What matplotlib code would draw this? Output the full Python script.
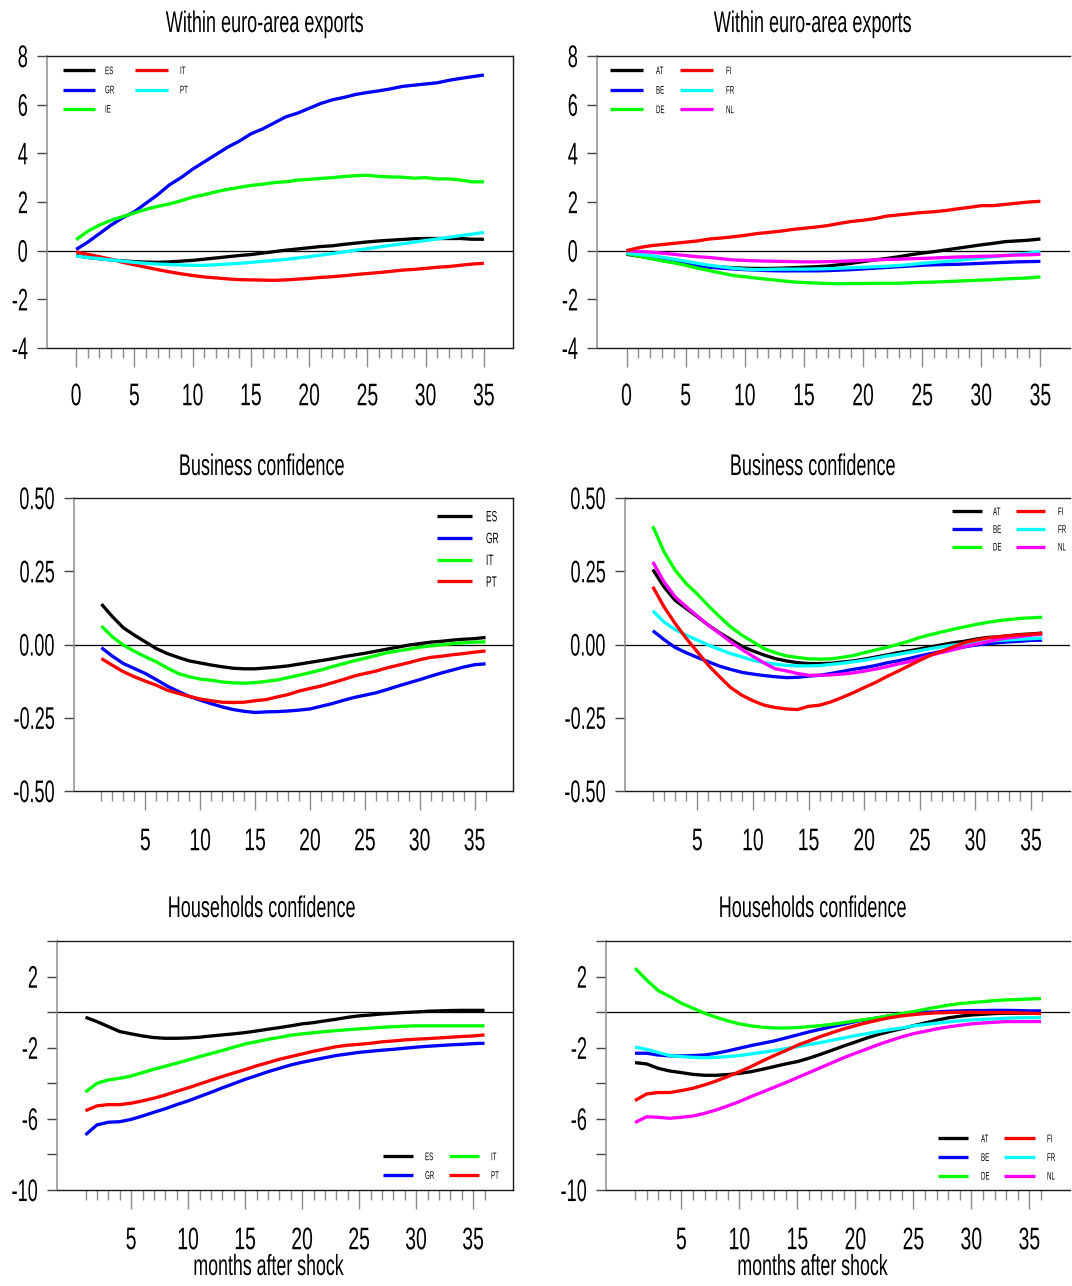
import matplotlib
matplotlib.use("Agg")
import matplotlib.pyplot as plt
from matplotlib.patheffects import AbstractPathEffect
from matplotlib.transforms import Affine2D
from matplotlib.legend import Legend

# ---------------------------------------------------------------- data
months0 = list(range(0, 36))   # within euro-area exports horizon
months1 = list(range(1, 37))   # confidence horizons

# Within euro-area exports, periphery
exp_ES = [-0.2, -0.28, -0.33, -0.38, -0.42, -0.45, -0.47, -0.48, -0.46, -0.43, -0.4, -0.35,
          -0.3, -0.25, -0.2, -0.16, -0.1, -0.04, 0.02, 0.07, 0.12, 0.17, 0.2, 0.26,
          0.31, 0.36, 0.4, 0.43, 0.46, 0.49, 0.5, 0.5, 0.5, 0.5, 0.47, 0.47]
exp_GR = [0.05, 0.35, 0.7, 1.05, 1.35, 1.6, 1.95, 2.3, 2.7, 3.0, 3.35, 3.65,
          3.95, 4.25, 4.5, 4.8, 5.0, 5.25, 5.5, 5.65, 5.85, 6.05, 6.2, 6.3,
          6.42, 6.5, 6.57, 6.65, 6.75, 6.8, 6.85, 6.9, 7.0, 7.08, 7.15, 7.22]
exp_IE = [0.45, 0.8, 1.05, 1.25, 1.4, 1.55, 1.7, 1.82, 1.92, 2.05, 2.2, 2.3,
          2.42, 2.52, 2.6, 2.68, 2.73, 2.8, 2.83, 2.9, 2.93, 2.97, 3.0, 3.05,
          3.08, 3.1, 3.05, 3.03, 3.02, 2.98, 3.0, 2.95, 2.95, 2.9, 2.83, 2.83]
exp_IT = [-0.05, -0.15, -0.25, -0.35, -0.48, -0.58, -0.68, -0.78, -0.87, -0.95, -1.02, -1.08,
          -1.12, -1.16, -1.19, -1.2, -1.21, -1.22, -1.2, -1.17, -1.14, -1.1, -1.07, -1.03,
          -0.98, -0.94, -0.9, -0.85, -0.8, -0.77, -0.73, -0.68, -0.65, -0.6, -0.55, -0.52]
exp_PT = [-0.22, -0.28, -0.33, -0.38, -0.43, -0.48, -0.52, -0.55, -0.57, -0.59, -0.6, -0.6,
          -0.58, -0.55, -0.52, -0.48, -0.44, -0.4, -0.36, -0.3, -0.25, -0.18, -0.12, -0.05,
          0.02, 0.08, 0.15, 0.22, 0.28, 0.35, 0.42, 0.48, 0.55, 0.62, 0.68, 0.75]

# Within euro-area exports, core
exp_AT = [-0.15, -0.22, -0.3, -0.38, -0.45, -0.52, -0.58, -0.63, -0.67, -0.7, -0.72, -0.73,
          -0.73, -0.72, -0.7, -0.68, -0.66, -0.63, -0.58, -0.52, -0.45, -0.38, -0.32, -0.25,
          -0.17, -0.1, -0.04, 0.03, 0.1, 0.17, 0.24, 0.3, 0.37, 0.4, 0.43, 0.48]
exp_BE = [-0.12, -0.2, -0.3, -0.4, -0.48, -0.55, -0.62, -0.68, -0.72, -0.75, -0.78, -0.8,
          -0.82, -0.83, -0.83, -0.83, -0.83, -0.82, -0.8, -0.78, -0.75, -0.72, -0.69, -0.66,
          -0.63, -0.6, -0.58, -0.57, -0.56, -0.54, -0.52, -0.5, -0.48, -0.46, -0.45, -0.44]
exp_DE = [-0.12, -0.22, -0.32, -0.42, -0.5, -0.6, -0.72, -0.82, -0.92, -1.02, -1.07, -1.13,
          -1.18, -1.23, -1.28, -1.31, -1.33, -1.35, -1.36, -1.35, -1.35, -1.34, -1.34, -1.34,
          -1.32, -1.3, -1.29, -1.27, -1.25, -1.23, -1.21, -1.19, -1.16, -1.14, -1.12, -1.08]
exp_FI = [0.0, 0.12, 0.2, 0.25, 0.3, 0.35, 0.4, 0.48, 0.52, 0.57, 0.63, 0.7,
          0.75, 0.8, 0.87, 0.92, 0.97, 1.03, 1.12, 1.2, 1.25, 1.32, 1.42, 1.47,
          1.52, 1.57, 1.6, 1.65, 1.72, 1.78, 1.85, 1.85, 1.9, 1.95, 2.0, 2.03]
exp_FR = [-0.1, -0.15, -0.2, -0.27, -0.35, -0.43, -0.52, -0.6, -0.66, -0.72, -0.76, -0.78,
          -0.77, -0.76, -0.76, -0.76, -0.75, -0.74, -0.72, -0.7, -0.68, -0.66, -0.64, -0.61,
          -0.57, -0.52, -0.48, -0.44, -0.4, -0.35, -0.3, -0.25, -0.2, -0.15, -0.1, -0.05]
exp_NL = [0.0, -0.03, -0.06, -0.1, -0.15, -0.2, -0.25, -0.28, -0.33, -0.38, -0.4, -0.42,
          -0.43, -0.44, -0.45, -0.46, -0.46, -0.45, -0.44, -0.42, -0.4, -0.38, -0.36, -0.35,
          -0.33, -0.32, -0.3, -0.28, -0.26, -0.25, -0.23, -0.22, -0.2, -0.18, -0.17, -0.15]

# Business confidence, periphery
bus_ES = [0.138, 0.095, 0.057, 0.032, 0.009, -0.014, -0.031, -0.044, -0.056, -0.063, -0.07, -0.076,
          -0.081, -0.083, -0.083, -0.08, -0.077, -0.073, -0.067, -0.061, -0.055, -0.049, -0.042, -0.036,
          -0.03, -0.023, -0.016, -0.009, -0.002, 0.003, 0.008, 0.011, 0.015, 0.018, 0.02, 0.024]
bus_GR = [-0.011, -0.04, -0.065, -0.082, -0.099, -0.12, -0.142, -0.16, -0.177, -0.19, -0.202, -0.213,
          -0.222, -0.228, -0.232, -0.23, -0.229, -0.227, -0.224, -0.22, -0.211, -0.202, -0.191, -0.181,
          -0.173, -0.165, -0.154, -0.142, -0.131, -0.12, -0.108, -0.097, -0.087, -0.077, -0.069, -0.066]
bus_IT = [0.063, 0.026, -0.002, -0.023, -0.042, -0.059, -0.08, -0.099, -0.11, -0.118, -0.122, -0.128,
          -0.131, -0.132, -0.13, -0.126, -0.121, -0.113, -0.105, -0.096, -0.087, -0.076, -0.066, -0.056,
          -0.047, -0.038, -0.028, -0.022, -0.016, -0.009, -0.005, -0.001, 0.003, 0.006, 0.008, 0.009]
bus_PT = [-0.048, -0.071, -0.093, -0.11, -0.125, -0.139, -0.156, -0.167, -0.177, -0.186, -0.192, -0.197,
          -0.198, -0.197, -0.192, -0.188, -0.179, -0.171, -0.159, -0.15, -0.142, -0.131, -0.12, -0.108,
          -0.099, -0.091, -0.08, -0.071, -0.062, -0.052, -0.044, -0.04, -0.035, -0.031, -0.026, -0.022]

# Business confidence, core
bus_AT = [0.256, 0.197, 0.151, 0.123, 0.095, 0.066, 0.04, 0.017, -0.006, -0.022, -0.036, -0.048,
          -0.056, -0.062, -0.065, -0.065, -0.064, -0.06, -0.056, -0.05, -0.043, -0.036, -0.028, -0.022,
          -0.015, -0.008, -0.001, 0.006, 0.011, 0.018, 0.024, 0.026, 0.03, 0.034, 0.036, 0.039]
bus_BE = [0.047, 0.017, -0.01, -0.028, -0.044, -0.059, -0.074, -0.085, -0.095, -0.101, -0.106, -0.11,
          -0.113, -0.112, -0.108, -0.105, -0.099, -0.092, -0.085, -0.079, -0.072, -0.063, -0.056, -0.048,
          -0.039, -0.031, -0.023, -0.015, -0.008, -0.002, 0.002, 0.006, 0.009, 0.011, 0.014, 0.015]
bus_DE = [0.404, 0.317, 0.254, 0.208, 0.172, 0.132, 0.095, 0.06, 0.032, 0.009, -0.014, -0.028,
          -0.039, -0.044, -0.049, -0.05, -0.049, -0.044, -0.038, -0.028, -0.019, -0.01, 0.0, 0.011,
          0.024, 0.034, 0.043, 0.052, 0.06, 0.068, 0.075, 0.081, 0.085, 0.089, 0.091, 0.093]
bus_FI = [0.197, 0.129, 0.072, 0.021, -0.025, -0.071, -0.11, -0.147, -0.173, -0.192, -0.207, -0.215,
          -0.22, -0.222, -0.211, -0.207, -0.196, -0.181, -0.165, -0.147, -0.13, -0.11, -0.092, -0.073,
          -0.054, -0.036, -0.023, -0.008, 0.006, 0.015, 0.022, 0.026, 0.03, 0.033, 0.035, 0.038]
bus_FR = [0.115, 0.077, 0.051, 0.032, 0.015, -0.002, -0.017, -0.031, -0.042, -0.054, -0.062, -0.067,
          -0.071, -0.073, -0.073, -0.072, -0.068, -0.064, -0.059, -0.054, -0.047, -0.04, -0.034, -0.027,
          -0.021, -0.014, -0.008, -0.002, 0.002, 0.007, 0.01, 0.014, 0.016, 0.018, 0.02, 0.022]
bus_NL = [0.282, 0.214, 0.163, 0.129, 0.097, 0.066, 0.038, 0.009, -0.017, -0.04, -0.063, -0.083,
          -0.09, -0.099, -0.105, -0.105, -0.104, -0.101, -0.097, -0.091, -0.084, -0.076, -0.067, -0.059,
          -0.048, -0.036, -0.027, -0.018, -0.008, 0.001, 0.009, 0.017, 0.023, 0.027, 0.032, 0.035]

# Households confidence, periphery
hh_ES = [-0.29, -0.53, -0.81, -1.09, -1.22, -1.34, -1.43, -1.47, -1.47, -1.45, -1.41, -1.34,
         -1.28, -1.22, -1.15, -1.06, -0.96, -0.87, -0.77, -0.66, -0.59, -0.49, -0.4, -0.29,
         -0.21, -0.16, -0.1, -0.06, -0.02, 0.01, 0.05, 0.07, 0.09, 0.1, 0.1, 0.1]
hh_GR = [-6.9, -6.34, -6.19, -6.16, -6.03, -5.84, -5.63, -5.43, -5.2, -4.99, -4.75, -4.51,
         -4.26, -4.02, -3.78, -3.57, -3.35, -3.16, -2.97, -2.82, -2.69, -2.56, -2.44, -2.35,
         -2.26, -2.2, -2.14, -2.09, -2.03, -1.97, -1.92, -1.88, -1.84, -1.81, -1.77, -1.75]
hh_IT = [-4.49, -4.0, -3.81, -3.72, -3.59, -3.4, -3.21, -3.04, -2.87, -2.69, -2.5, -2.33,
         -2.16, -1.97, -1.79, -1.66, -1.53, -1.42, -1.3, -1.22, -1.16, -1.09, -1.04, -0.99,
         -0.94, -0.9, -0.85, -0.82, -0.79, -0.77, -0.77, -0.77, -0.77, -0.77, -0.77, -0.77]
hh_PT = [-5.54, -5.27, -5.2, -5.2, -5.12, -4.99, -4.84, -4.66, -4.45, -4.26, -4.04, -3.83,
         -3.62, -3.42, -3.23, -3.02, -2.84, -2.65, -2.5, -2.35, -2.2, -2.07, -1.94, -1.86,
         -1.81, -1.75, -1.67, -1.62, -1.56, -1.52, -1.49, -1.45, -1.41, -1.37, -1.34, -1.28]

# Households confidence, core
hh_AT = [-2.84, -2.91, -3.16, -3.31, -3.4, -3.5, -3.55, -3.55, -3.51, -3.44, -3.35, -3.21,
         -3.06, -2.91, -2.78, -2.59, -2.37, -2.14, -1.9, -1.68, -1.45, -1.25, -1.08, -0.93,
         -0.76, -0.61, -0.46, -0.32, -0.23, -0.16, -0.12, -0.08, -0.06, -0.06, -0.06, -0.06]
hh_BE = [-2.31, -2.31, -2.41, -2.46, -2.46, -2.44, -2.41, -2.31, -2.18, -2.03, -1.88, -1.75,
         -1.62, -1.45, -1.28, -1.11, -0.96, -0.81, -0.68, -0.53, -0.42, -0.31, -0.21, -0.12,
         -0.06, -0.01, 0.01, 0.05, 0.07, 0.09, 0.09, 0.1, 0.1, 0.09, 0.07, 0.07]
hh_DE = [2.47, 1.81, 1.21, 0.88, 0.5, 0.22, -0.06, -0.29, -0.49, -0.66, -0.77, -0.85,
         -0.89, -0.89, -0.87, -0.81, -0.76, -0.68, -0.59, -0.49, -0.4, -0.31, -0.19, -0.08,
         0.03, 0.16, 0.28, 0.39, 0.48, 0.54, 0.59, 0.65, 0.69, 0.71, 0.74, 0.76]
hh_FI = [-4.97, -4.6, -4.52, -4.52, -4.41, -4.28, -4.09, -3.87, -3.62, -3.35, -3.06, -2.74,
         -2.44, -2.16, -1.86, -1.62, -1.37, -1.15, -0.94, -0.76, -0.59, -0.44, -0.31, -0.21,
         -0.14, -0.08, -0.04, -0.02, -0.01, -0.01, -0.02, -0.02, -0.02, -0.04, -0.06, -0.08]
hh_FR = [-1.97, -2.09, -2.27, -2.44, -2.5, -2.54, -2.56, -2.54, -2.5, -2.44, -2.35, -2.26,
         -2.16, -2.05, -1.94, -1.82, -1.71, -1.58, -1.45, -1.32, -1.21, -1.09, -0.98, -0.89,
         -0.77, -0.7, -0.62, -0.55, -0.49, -0.44, -0.4, -0.38, -0.34, -0.32, -0.31, -0.31]
hh_NL = [-6.21, -5.88, -5.91, -5.97, -5.91, -5.84, -5.69, -5.5, -5.27, -5.03, -4.75, -4.49,
         -4.22, -3.96, -3.68, -3.4, -3.12, -2.84, -2.56, -2.31, -2.07, -1.82, -1.6, -1.39,
         -1.21, -1.08, -0.94, -0.83, -0.74, -0.66, -0.61, -0.57, -0.53, -0.53, -0.53, -0.53]

titles = ["Within euro-area exports", "Within euro-area exports",
          "Business confidence", "Business confidence",
          "Households confidence", "Households confidence"]
xlabel_text = "months after shock"

yticks_exp = [-4, -2, 0, 2, 4, 6, 8]
ylabels_exp = ["-4", "-2", "0", "2", "4", "6", "8"]
yticks_bus = [-0.5, -0.25, 0.0, 0.25, 0.5]
ylabels_bus = ["-0.50", "-0.25", "0.00", "0.25", "0.50"]
yticks_hh = [-10, -8, -6, -4, -2, 0, 2, 4]
ylabels_hh = ["-10", "", "-6", "", "-2", "", "2", ""]

COL = {"ES": "#000000", "GR": "#0000ff", "IE": "#00ff00", "IT": "#ff0000", "PT": "#00ffff",
       "AT": "#000000", "BE": "#0000ff", "DE": "#00ff00", "FI": "#ff0000", "FR": "#00ffff",
       "NL": "#ff00ff"}
COL_CONF_PER = {"ES": "#000000", "GR": "#0000ff", "IT": "#00ff00", "PT": "#ff0000"}

# ---------------------------------------------------------------- helpers
W, H = 1072, 1286
DPI = 100
PT = 72.0 / DPI   # points per pixel
SY = 1.5          # vertical stretch of the (very narrow, tall) lettering


class Squeeze(AbstractPathEffect):
    """Draw text with an anisotropic scale: the original uses a tall, very narrow face."""

    def __init__(self, sx, sy=SY, anchor_x="center", anchor_y="baseline"):
        super().__init__()
        self.sx = sx
        self.sy = sy
        self.anchor_x = anchor_x
        self.anchor_y = anchor_y

    def draw_path(self, renderer, gc, tpath, affine, rgbFace=None):
        ext = tpath.get_extents()
        cx = {"center": 0.5 * (ext.x0 + ext.x1), "right": ext.x1, "left": 0.0}[self.anchor_x]
        cy = {"center": 0.5 * (ext.y0 + ext.y1), "top": ext.y1, "baseline": 0.0}[self.anchor_y]
        t = Affine2D().translate(-cx, -cy).scale(self.sx, self.sy).translate(cx, cy) + affine
        gc.set_snap(False)
        renderer.draw_path(gc, tpath, t, rgbFace)


plt.rcParams["font.family"] = ["Liberation Sans", "DejaVu Sans"]

fig = plt.figure(figsize=(W / DPI, H / DPI), dpi=DPI)
fig.patch.set_facecolor("white")


def make_axes(left, right, top, bottom):
    return fig.add_axes([left / W, 1 - bottom / H, (right - left) / W, (bottom - top) / H])


LW = 3.3 * PT
TICK_FS = 22.5 / SY     # nominal size; drawn 1.5x taller
XT_SX = 0.62 * SY
YT_SX = 0.58 * SY


def style_axes(ax, xlim, ylim, xmajor, xminor, yticks, ylabels, right_col, xpad_px):
    ax.set_xlim(*xlim)
    ax.set_ylim(*ylim)
    ax.set_xticks(xmajor, labels=[str(v) for v in xmajor])
    ax.set_xticks(xminor, minor=True)
    ax.set_yticks(yticks, labels=ylabels)
    ax.tick_params(axis="x", which="major", direction="out", length=19 * PT, width=1.4 * PT,
                   color="#8c8c8c", labelsize=TICK_FS, pad=xpad_px * PT)
    ax.tick_params(axis="x", which="minor", direction="out", length=9.5 * PT, width=1.4 * PT,
                   color="#8c8c8c")
    ax.tick_params(axis="y", which="major", direction="out", length=10 * PT, width=1.4 * PT,
                   color="#444444", labelsize=TICK_FS, pad=9 * PT)
    for s in ["top", "bottom", "right"]:
        ax.spines[s].set_color("#1a1a1a")
        ax.spines[s].set_linewidth(1.4 * PT)
    ax.spines["left"].set_color("#8c8c8c")
    ax.spines["left"].set_linewidth(1.5 * PT)
    if right_col:
        ax.spines["right"].set_visible(False)
    ax.axhline(0, color="black", lw=1.3 * PT, zorder=1.5)


def legend_col(ax, handles, labels, x_px, yc_px, pitch_px, em_px, hl_px, gap_px, sx=0.56):
    em_n = em_px / SY                 # nominal em; glyphs are stretched back to em_px
    th = 0.88 * em_n
    top = yc_px - th / 2.0
    leg = Legend(ax, handles, labels, loc="upper left",
                 bbox_to_anchor=(x_px / W, 1 - top / H), bbox_transform=fig.transFigure,
                 frameon=False, borderpad=0, borderaxespad=0, fontsize=em_n * PT, numpoints=1,
                 handlelength=hl_px / em_n, handletextpad=gap_px / em_n,
                 labelspacing=(pitch_px - th) / em_n)
    for t in leg.get_texts():
        t.set_path_effects([Squeeze(sx * SY, SY, "left", "center")])
    ax.add_artist(leg)
    return leg


def plot_series(ax, x, series):
    lines = {}
    for name, (vals, col) in series.items():
        ln, = ax.plot(x, vals, color=col, lw=LW, solid_capstyle="butt",
                      solid_joinstyle="round", zorder=2, label=name)
        lines[name] = ln
    return lines


xmaj0 = [0, 5, 10, 15, 20, 25, 30, 35]
xmin0 = [v for v in months0 if v % 5 != 0]
xmaj1 = [5, 10, 15, 20, 25, 30, 35]
xmin1 = [v for v in months1 if v % 5 != 0]

# ---------------------------------------------------------------- row 1
ax = make_axes(47, 513, 56, 348)
style_axes(ax, (-2.5, 37.5), (-4, 8), xmaj0, xmin0, yticks_exp, ylabels_exp, False, 16)
L = plot_series(ax, months0, {"ES": (exp_ES, COL["ES"]), "GR": (exp_GR, COL["GR"]),
                              "IE": (exp_IE, COL["IE"]), "IT": (exp_IT, COL["IT"]),
                              "PT": (exp_PT, COL["PT"])})
legend_col(ax, [L["ES"], L["GR"], L["IE"]], ["ES", "GR", "IE"], 63, 71, 18.5, 11, 32, 10)
legend_col(ax, [L["IT"], L["PT"]], ["IT", "PT"], 135, 71, 18.5, 11, 33, 12)

ax = make_axes(597, 1070, 56, 348)
style_axes(ax, (-2.5, 37.5), (-4, 8), xmaj0, xmin0, yticks_exp, ylabels_exp, True, 16)
L = plot_series(ax, months0, {"AT": (exp_AT, COL["AT"]), "BE": (exp_BE, COL["BE"]),
                              "DE": (exp_DE, COL["DE"]), "FR": (exp_FR, COL["FR"]),
                              "NL": (exp_NL, COL["NL"]), "FI": (exp_FI, COL["FI"])})
legend_col(ax, [L["AT"], L["BE"], L["DE"]], ["AT", "BE", "DE"], 610, 71, 18.8, 11, 33, 13)
legend_col(ax, [L["FI"], L["FR"], L["NL"]], ["FI", "FR", "NL"], 680, 71, 18.8, 11, 33, 13)

# ---------------------------------------------------------------- row 2
ax = make_axes(74, 513, 498, 791)
style_axes(ax, (-1.5, 38.5), (-0.5, 0.5), xmaj1, xmin1, yticks_bus, ylabels_bus, False, 18)
L = plot_series(ax, months1, {"ES": (bus_ES, COL_CONF_PER["ES"]), "GR": (bus_GR, COL_CONF_PER["GR"]),
                              "IT": (bus_IT, COL_CONF_PER["IT"]), "PT": (bus_PT, COL_CONF_PER["PT"])})
legend_col(ax, [L["ES"], L["GR"], L["IT"], L["PT"]], ["ES", "GR", "IT", "PT"],
           437, 516, 20.6, 15, 35, 14)

ax = make_axes(625, 1070, 498, 791)
style_axes(ax, (-1.5, 38.5), (-0.5, 0.5), xmaj1, xmin1, yticks_bus, ylabels_bus, True, 18)
L = plot_series(ax, months1, {"AT": (bus_AT, COL["AT"]), "BE": (bus_BE, COL["BE"]),
                              "DE": (bus_DE, COL["DE"]), "FR": (bus_FR, COL["FR"]),
                              "NL": (bus_NL, COL["NL"]), "FI": (bus_FI, COL["FI"])})
legend_col(ax, [L["AT"], L["BE"], L["DE"]], ["AT", "BE", "DE"], 952, 512, 17, 11, 30, 11)
legend_col(ax, [L["FI"], L["FR"], L["NL"]], ["FI", "FR", "NL"], 1016, 512, 17, 11, 29, 13)

# ---------------------------------------------------------------- row 3
ax = make_axes(57, 513, 941, 1190)
style_axes(ax, (-1.5, 38.5), (-10, 4), xmaj1, xmin1, yticks_hh, ylabels_hh, False, 18)
L = plot_series(ax, months1, {"ES": (hh_ES, COL_CONF_PER["ES"]), "GR": (hh_GR, COL_CONF_PER["GR"]),
                              "IT": (hh_IT, COL_CONF_PER["IT"]), "PT": (hh_PT, COL_CONF_PER["PT"])})
legend_col(ax, [L["ES"], L["GR"]], ["ES", "GR"], 383, 1157, 18, 11, 30, 12)
legend_col(ax, [L["IT"], L["PT"]], ["IT", "PT"], 449, 1157, 18, 11, 30, 12)

ax = make_axes(606, 1070, 941, 1190)
style_axes(ax, (-1.5, 38.5), (-10, 4), xmaj1, xmin1, yticks_hh, ylabels_hh, True, 18)
L = plot_series(ax, months1, {"AT": (hh_AT, COL["AT"]), "BE": (hh_BE, COL["BE"]),
                              "DE": (hh_DE, COL["DE"]), "FR": (hh_FR, COL["FR"]),
                              "NL": (hh_NL, COL["NL"]), "FI": (hh_FI, COL["FI"])})
legend_col(ax, [L["AT"], L["BE"], L["DE"]], ["AT", "BE", "DE"], 938, 1139, 18, 11, 30, 13)
legend_col(ax, [L["FI"], L["FR"], L["NL"]], ["FI", "FR", "NL"], 1004, 1139, 18, 11, 31, 12)

# ---------------------------------------------------------------- titles and labels
title_pos = [(265, 32), (813, 32), (262, 475), (813, 475), (262, 917), (813, 917)]
for (tx, ty), ttl in zip(title_pos, titles):
    fig.text(tx / W, 1 - ty / H, ttl, ha="center", va="baseline", fontsize=21.5 / SY,
             path_effects=[Squeeze(0.605 * SY, SY, "center", "baseline")])
for tx in (269, 813):
    fig.text(tx / W, 1 - 1275 / H, xlabel_text, ha="center", va="baseline", fontsize=21 / SY,
             path_effects=[Squeeze(0.61 * SY, SY, "center", "baseline")])

fig.canvas.draw()
for a in fig.axes:
    for t in a.get_xticklabels():
        t.set_path_effects([Squeeze(XT_SX, SY, "center", "top")])
    for t in a.get_yticklabels():
        t.set_path_effects([Squeeze(YT_SX, SY, "right", "center")])

fig.savefig("out.png", dpi=DPI, facecolor="white")
